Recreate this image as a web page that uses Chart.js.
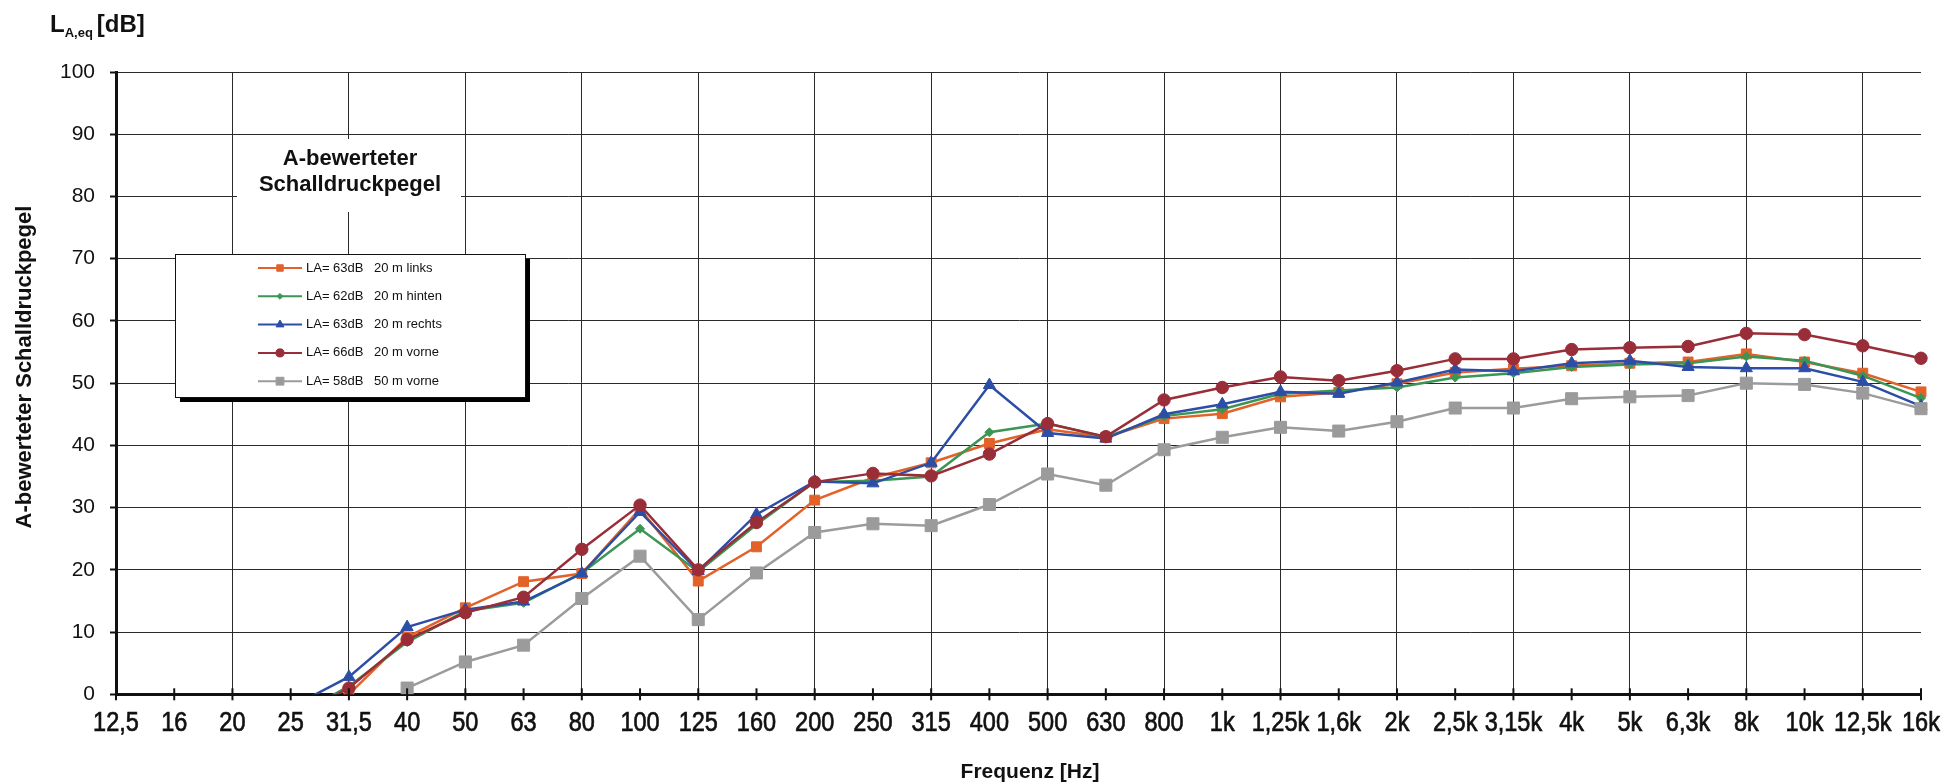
<!DOCTYPE html>
<html>
<head>
<meta charset="utf-8">
<title>A-bewerteter Schalldruckpegel</title>
<script src="https://cdn.jsdelivr.net/npm/chart.js"></script>
<style>
    body { margin: 0; background: #fff; }
    #wrap { width: 1945px; height: 784px; }
</style>
</head>
<body>
<div id="wrap"><canvas id="pegelChart" width="1945" height="784"></canvas></div>
<script>
// Terzbänder (x-Achse)
const frequenzen = ['12,5', '16', '20', '25', '31,5', '40', '50', '63', '80', '100', '125', '160',
    '200', '250', '315', '400', '500', '630', '800', '1k', '1,25k', '1,6k', '2k', '2,5k', '3,15k',
    '4k', '5k', '6,3k', '8k', '10k', '12,5k', '16k'];

const links20 = [null, null, null, null, 0.0, 9.2, 13.9, 18.1, 19.4, 29.8, 18.2, 23.7, 31.2, 34.8, 37.2, 40.3,
    42.6, 41.3, 44.3, 45.1, 47.8, 48.5, 49.9, 51.7, 52.3, 52.8, 53.2, 53.4, 54.7, 53.4, 51.6, 48.6];
const hinten20 = [null, null, null, -3.9, 1.3, 8.4, 13.4, 14.7, 19.5, 26.6, 19.7, 27.3, 34.1, 34.3, 35.0, 42.1,
    43.5, 41.3, 44.7, 45.8, 48.3, 48.8, 49.3, 50.9, 51.6, 52.6, 53.0, 53.2, 54.3, 53.6, 51.2, 47.6];
const rechts20 = [null, null, null, -2.1, 2.8, 10.8, 13.6, 14.9, 19.4, 29.3, 19.8, 28.9, 34.2, 33.9, 37.2, 49.7,
    42.0, 41.1, 45.0, 46.6, 48.6, 48.3, 50.1, 52.2, 51.9, 53.2, 53.6, 52.6, 52.4, 52.4, 50.2, 46.3];
const vorne20 = [null, null, null, -4.0, 1.0, 8.8, 13.1, 15.6, 23.3, 30.4, 20.0, 27.6, 34.1, 35.5, 35.1, 38.6,
    43.5, 41.4, 47.3, 49.3, 51.0, 50.4, 52.0, 53.9, 53.9, 55.4, 55.7, 55.9, 58.0, 57.8, 56.0, 54.0];
const vorne50 = [null, null, null, null, null, 1.0, 5.2, 7.9, 15.4, 22.2, 12.0, 19.5, 26.0, 27.4, 27.1, 30.5,
    35.4, 33.6, 39.3, 41.3, 42.9, 42.3, 43.8, 46.0, 46.0, 47.5, 47.8, 48.0, 50.0, 49.8, 48.4, 45.9];

const pegelTexte = ['LA= 63dB', 'LA= 62dB', 'LA= 63dB', 'LA= 66dB', 'LA= 58dB'];
const ortTexte = ['20 m links', '20 m hinten', '20 m rechts', '20 m vorne', '50 m vorne'];

const yMin = 0;
const yMax = 100;
const yStep = 10;

const schrift = "'Liberation Sans', Arial, Helvetica, sans-serif";
const gitterFarbe = '#2a2a2a';

function reihe(label, data, farbe, stil, radius, order) {
    return {
        label: label,
        data: data,
        borderColor: farbe,
        backgroundColor: farbe,
        borderWidth: 2.5,
        pointStyle: stil,
        pointRadius: radius,
        pointBorderWidth: 1,
        pointBackgroundColor: farbe,
        pointBorderColor: farbe,
        tension: 0,
        spanGaps: false,
        order: order,
        clip: {left: 8, top: 8, right: 12, bottom: 0}
    };
}

const datasets = [
    reihe('links', links20, '#e2622a', 'rect', 7, 4),
    reihe('hinten', hinten20, '#3b9555', 'rectRot', 4.5, 3),
    reihe('rechts', rechts20, '#2d4ea6', 'triangle', 7, 2),
    reihe('vorne', vorne20, '#992d38', 'circle', 6.2, 1),
    reihe('vorne50', vorne50, '#9b9b9b', 'rect', 8.5, 0)
];

function punkt(ctx, stil, r, x, y, farbe) {
    if (Chart.helpers && Chart.helpers.drawPoint) {
        ctx.fillStyle = farbe;
        ctx.strokeStyle = farbe;
        ctx.lineWidth = 1;
        Chart.helpers.drawPoint(ctx, {pointStyle: stil, radius: r, rotation: 0, borderWidth: 1}, x, y);
    }
}

const beschriftung = {
    id: 'beschriftung',
    afterDraw(chart) {
        const ctx = chart.ctx;
        const area = chart.chartArea;
        const xs = chart.scales.x;
        ctx.save();

        // Teilstriche und schmale Beschriftung der x-Achse
        ctx.strokeStyle = '#111';
        ctx.lineWidth = 2;
        ctx.fillStyle = '#111';
        ctx.font = '28px ' + schrift;
        ctx.textAlign = 'center';
        ctx.textBaseline = 'alphabetic';
        for (let i = 0; i < frequenzen.length; i++) {
            const x = xs.getPixelForTick(i);
            ctx.lineWidth = 2;
            ctx.beginPath();
            ctx.moveTo(x, area.bottom - 6);
            ctx.lineTo(x, area.bottom + 6);
            ctx.stroke();
            ctx.save();
            ctx.translate(x, 730.5);
            ctx.scale(0.84, 1);
            ctx.lineWidth = 0.7;
            ctx.fillText(frequenzen[i], 0, 0);
            ctx.strokeText(frequenzen[i], 0, 0);
            ctx.restore();
        }

        // Textfeld "A-bewerteter Schalldruckpegel"
        ctx.fillStyle = '#fff';
        ctx.fillRect(237, 139, 224, 73);
        ctx.fillStyle = '#111';
        ctx.font = 'bold 22px ' + schrift;
        ctx.textAlign = 'center';
        ctx.fillText('A-bewerteter', 350, 165);
        ctx.fillText('Schalldruckpegel', 350, 191);

        // Legende mit Schatten
        const lx = 175, ly = 254, lw = 350, lh = 143;
        ctx.fillStyle = '#000';
        ctx.fillRect(lx + 5, ly + 5, lw, lh);
        ctx.fillStyle = '#fff';
        ctx.fillRect(lx, ly, lw, lh);
        ctx.strokeStyle = '#111';
        ctx.lineWidth = 1;
        ctx.strokeRect(lx + 0.5, ly + 0.5, lw, lh);
        ctx.font = '13px ' + schrift;
        ctx.textAlign = 'left';
        ctx.textBaseline = 'middle';
        chart.data.datasets.forEach((ds, i) => {
            const y = 268 + i * 28.3;
            ctx.strokeStyle = ds.borderColor;
            ctx.lineWidth = 2;
            ctx.beginPath();
            ctx.moveTo(258, y);
            ctx.lineTo(302, y);
            ctx.stroke();
            punkt(ctx, ds.pointStyle, ds.pointRadius * 0.65, 280, y, ds.borderColor);
            ctx.fillStyle = '#111';
            ctx.fillText(pegelTexte[i], 306, y);
            ctx.fillText(ortTexte[i], 374, y);
        });

        // Einheit oben links: L_A,eq [dB]
        ctx.fillStyle = '#111';
        ctx.textAlign = 'left';
        ctx.textBaseline = 'alphabetic';
        ctx.font = 'bold 24px ' + schrift;
        ctx.fillText('L', 50, 32);
        let xPos = 50 + ctx.measureText('L').width;
        ctx.font = 'bold 13px ' + schrift;
        ctx.fillText('A,eq', xPos, 37);
        xPos += ctx.measureText('A,eq').width + 4;
        ctx.font = 'bold 24px ' + schrift;
        ctx.fillText('[dB]', xPos, 32);

        // Achsentitel
        ctx.font = 'bold 21px ' + schrift;
        ctx.textAlign = 'center';
        ctx.textBaseline = 'middle';
        ctx.fillText('Frequenz [Hz]', 1030, 772);

        ctx.translate(25, 367);
        ctx.rotate(-Math.PI / 2);
        ctx.font = 'bold 22px ' + schrift;
        ctx.fillText('A-bewerteter Schalldruckpegel', 0, 0);
        ctx.restore();
    }
};

const pegelChart = new Chart(document.getElementById('pegelChart'), {
    type: 'line',
    data: {
        labels: frequenzen,
        datasets: datasets
    },
    options: {
        responsive: false,
        animation: false,
        layout: {
            padding: {top: 72, right: 24, bottom: 0, left: 0}
        },
        plugins: {
            legend: {display: false},
            tooltip: {enabled: false}
        },
        scales: {
            x: {
                type: 'category',
                offset: false,
                grid: {
                    color: ctx => (ctx.index % 2 === 0 ? gitterFarbe : 'rgba(0,0,0,0)'),
                    lineWidth: 1,
                    drawTicks: false
                },
                border: {display: true, color: '#111', width: 3},
                ticks: {
                    display: false,
                    autoSkip: false,
                    maxRotation: 0
                },
                afterFit(scale) {
                    scale.height = 89.7;
                    scale.paddingLeft = 0;
                    scale.paddingRight = 0;
                }
            },
            y: {
                min: yMin,
                max: yMax,
                grid: {
                    color: gitterFarbe,
                    lineWidth: 1,
                    drawTicks: true,
                    tickLength: 6,
                    tickWidth: 2,
                    tickColor: '#111'
                },
                border: {display: true, color: '#111', width: 3},
                ticks: {
                    stepSize: yStep,
                    padding: 15,
                    color: '#111',
                    font: {family: schrift, size: 21}
                },
                afterFit(scale) {
                    scale.width = 116;
                    scale.paddingTop = 0;
                    scale.paddingBottom = 0;
                }
            }
        }
    },
    plugins: [beschriftung]
});
</script>
</body>
</html>
